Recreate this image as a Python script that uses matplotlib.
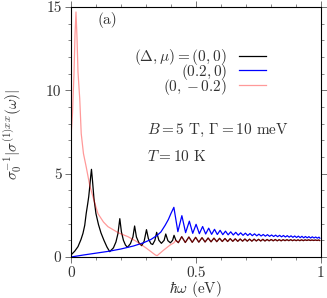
import matplotlib
matplotlib.use('Agg')
import matplotlib.pyplot as plt
from matplotlib.lines import Line2D

plt.rcParams['font.family'] = 'serif'
plt.rcParams['font.serif'] = ['cmr10', 'DejaVu Serif']
plt.rcParams['mathtext.fontset'] = 'cm'
plt.rcParams['axes.formatter.use_mathtext'] = True

# ---------------- data ----------------
# (Delta, mu) = (0, 0): low-energy part
black_x_low = [0.000, 0.015, 0.028, 0.040, 0.048, 0.055, 0.061, 0.067, 0.071, 0.075, 0.079, 0.082,
               0.086, 0.092, 0.100, 0.110, 0.120, 0.132, 0.144, 0.155,
               0.170, 0.180, 0.188, 0.1955, 0.202, 0.210, 0.218, 0.226,
               0.238, 0.248, 0.2548, 0.262, 0.272, 0.283,
               0.293, 0.3023, 0.310, 0.320, 0.327,
               0.336, 0.3431, 0.352, 0.362,
               0.373, 0.3795, 0.388, 0.398,
               0.407, 0.4127, 0.420, 0.430]
black_y_low = [0.12, 0.35, 0.62, 1.05, 1.42, 1.90, 2.62, 3.20, 3.62, 4.20, 4.85, 5.26,
               4.60, 3.50, 2.60, 1.95, 1.45, 1.00, 0.60, 0.32,
               0.55, 0.90, 1.40, 2.30, 1.50, 1.00, 0.72, 0.58,
               0.80, 1.20, 1.86, 1.20, 0.85, 0.68,
               0.95, 1.64, 1.10, 0.80, 0.75,
               1.00, 1.48, 1.00, 0.82,
               1.00, 1.38, 0.98, 0.85,
               1.00, 1.30, 1.00, 0.86]
# (0, 0): oscillating part, peak positions / heights and following troughs
black_peak_x = [0.4434, 0.4721, 0.4991, 0.5248, 0.5492, 0.5726, 0.5951, 0.6168, 0.6377, 0.6580,
                0.6776, 0.6967, 0.7153, 0.7334, 0.7511, 0.7684, 0.7853, 0.8018, 0.8180, 0.8339,
                0.8495, 0.8648, 0.8799, 0.8946, 0.9092, 0.9235, 0.9376, 0.9515, 0.9652, 0.9787, 0.9920]
black_peak_y = [1.22, 1.20, 1.18, 1.16, 1.14, 1.13, 1.12, 1.11, 1.10, 1.09,
                1.08, 1.08, 1.07, 1.07, 1.06, 1.06, 1.05, 1.05, 1.05, 1.04,
                1.04, 1.04, 1.04, 1.03, 1.03, 1.03, 1.03, 1.03, 1.02, 1.02, 1.02]
black_trough_y = [0.87, 0.88, 0.89, 0.90, 0.91, 0.92, 0.93, 0.93, 0.94, 0.94,
                  0.95, 0.95, 0.95, 0.96, 0.96, 0.96, 0.97, 0.97, 0.97, 0.97,
                  0.98, 0.98, 0.98, 0.98, 0.98, 0.98, 0.99, 0.99, 0.99, 0.99, 0.99]

# (0.2, 0)
blue_x_low = [0.000, 0.050, 0.100, 0.150, 0.200, 0.250, 0.290, 0.320, 0.345, 0.360, 0.377, 0.390, 0.400]
blue_y_low = [0.00, 0.12, 0.23, 0.34, 0.48, 0.66, 0.85, 1.05, 1.30, 1.50, 1.90, 2.25, 2.60]
blue_peak_x = [0.412, 0.444, 0.4740, 0.5010, 0.5272, 0.5515, 0.5748, 0.5972, 0.6188, 0.6397,
               0.6599, 0.6795, 0.6985, 0.7170, 0.7351, 0.7527, 0.7700, 0.7869, 0.8034, 0.8196,
               0.8354, 0.8509, 0.8662, 0.8812, 0.8960, 0.9106, 0.9249, 0.9389, 0.9527, 0.9664,
               0.9799, 0.9932]
blue_peak_y = [2.98, 2.48, 2.15, 1.96, 1.83, 1.73, 1.66, 1.60, 1.55, 1.51,
               1.48, 1.45, 1.43, 1.41, 1.39, 1.37, 1.35, 1.34, 1.32, 1.31,
               1.30, 1.29, 1.28, 1.27, 1.26, 1.25, 1.24, 1.23, 1.22, 1.21,
               1.20, 1.19]
blue_trough_y = [1.52, 1.46, 1.42, 1.40, 1.38, 1.36, 1.35, 1.34, 1.33, 1.32,
                 1.31, 1.30, 1.29, 1.28, 1.27, 1.26, 1.25, 1.24, 1.23, 1.22,
                 1.21, 1.20, 1.19, 1.18, 1.17, 1.16, 1.15, 1.15, 1.14, 1.14,
                 1.13, 1.13]

# (0, -0.2): low-energy part (above ~0.42 eV it coincides with (0,0))
pink_x_low = [0.000, 0.006, 0.012, 0.016, 0.020, 0.024, 0.028, 0.035, 0.041, 0.050, 0.061, 0.075,
              0.092, 0.108, 0.130, 0.148, 0.190, 0.228, 0.260, 0.300, 0.338, 0.345, 0.370, 0.397, 0.412]
pink_y_low = [7.2, 8.6, 11.0, 13.3, 14.7, 13.2, 11.1, 9.5, 7.4, 6.2, 5.4, 4.3,
              3.4, 2.6, 2.1, 1.82, 1.45, 1.22, 0.95, 0.55, 0.12, 0.08, 0.40, 0.72, 0.85]
pink_join_x = 0.420

labels = [r'$(\Delta,\mu)=(0,0)$', r'$(0.2,0)$', r'$(0,-0.2)$']
x_ticks = [0, 0.5, 1]
x_tick_labels = ['0', '0.5', '1']
y_ticks = [0, 5, 10, 15]
y_tick_labels = ['0', '5', '10', '15']


def oscillation(px, py, ty, x_end=1.0):
    xs, ys = [], []
    for i in range(len(px)):
        xs.append(px[i]); ys.append(py[i])
        nxt = px[i + 1] if i + 1 < len(px) else x_end
        xs.append(0.5 * (px[i] + nxt)); ys.append(ty[i])
    return xs, ys


bx_o, by_o = oscillation(black_peak_x, black_peak_y, black_trough_y)
black_x = black_x_low + bx_o
black_y = black_y_low + by_o
blx_o, bly_o = oscillation(blue_peak_x, blue_peak_y, blue_trough_y)
blue_x = blue_x_low + blx_o
blue_y = blue_y_low + bly_o
pink_x = pink_x_low + [x for x in black_x if x >= pink_join_x]
pink_y = pink_y_low + [y for x, y in zip(black_x, black_y) if x >= pink_join_x]

# ---------------- figure ----------------
fig = plt.figure(figsize=(3.27, 2.98), dpi=100)
ax = fig.add_axes([0.2171, 0.1376, 0.7636, 0.8389])

l1, = ax.plot(black_x, black_y, color='black', lw=0.9)
l2, = ax.plot(blue_x, blue_y, color='blue', lw=0.9)
l3, = ax.plot(pink_x, pink_y, color='red', alpha=0.4, lw=0.9)

ax.set_xlim(0, 1)
ax.set_ylim(0, 15)
ax.set_xticks(x_ticks)
ax.set_xticklabels(x_tick_labels)
ax.set_yticks(y_ticks)
ax.set_yticklabels(y_tick_labels)
ax.set_xticks([i / 10 for i in range(11)], minor=True)
ax.set_yticks(list(range(16)), minor=True)
ax.tick_params(which='both', direction='out', top=True, right=True, color='0.45', labelsize=11,
               labelcolor='0.2')
ax.tick_params(which='major', length=4.3, width=0.7, pad=2.5)
ax.tick_params(which='minor', length=2.2, width=0.6)
for s in ax.spines.values():
    s.set_linewidth(0.8)

ax.set_xlabel(r'$\hbar\omega$ (eV)', fontsize=11, color='0.2', labelpad=-0.5)
ax.set_ylabel(r'$\sigma_0^{-1}|\sigma^{(1)xx}(\omega)|$', fontsize=11, color='0.2')
ax.yaxis.set_label_coords(-0.188, 0.49)

leg = ax.legend([l1, l2, Line2D([], [], color='red', alpha=0.4, lw=0.9)], labels,
                loc='upper right', bbox_to_anchor=(0.781, 0.84), frameon=False,
                markerfirst=False, handlelength=1.75, handletextpad=0.8, labelspacing=-0.34,
                borderpad=0, borderaxespad=0, fontsize=11)
for t in leg.get_texts():
    t.set_color('0.2')

ax.text(0.108, 0.948, '(a)', transform=ax.transAxes, fontsize=11, va='center', ha='left', color='0.2')
ax.text(0.303, 0.508, r'$B=5$ T, $\Gamma=10$ meV', transform=ax.transAxes, fontsize=11,
        va='center', ha='left', color='0.2')
ax.text(0.304, 0.40, r'$T=10$ K', transform=ax.transAxes, fontsize=11,
        va='center', ha='left', color='0.2')

fig.savefig('out.png', dpi=100)
